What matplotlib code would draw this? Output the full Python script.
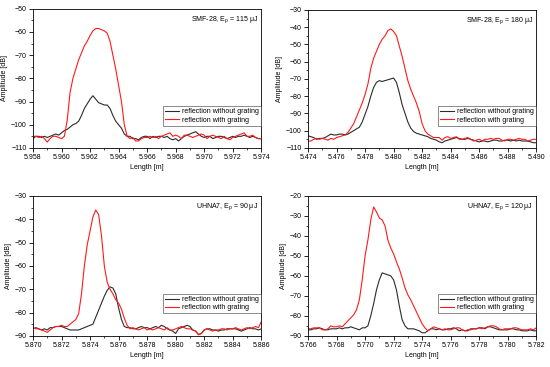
import numpy as np
import matplotlib
matplotlib.use("Agg")
from matplotlib import pyplot as plt
from matplotlib.ticker import MultipleLocator

plt.rcParams['font.family'] = ['Liberation Sans', 'DejaVu Sans']
plt.rcParams['mathtext.default'] = 'regular'

# sample grids (0.2 mm spacing) for each panel
x_smf115 = np.linspace(5.958, 5.974, 81)
x_smf180 = np.linspace(5.474, 5.490, 81)
x_uhna90 = np.linspace(5.870, 5.886, 81)
x_uhna120 = np.linspace(5.766, 5.782, 81)

smf115_without = [
    -106, -105, -105, -105.5, -105, -105.5, -105, -104.5, -104, -104.5,
    -103.5, -102.5, -102, -101, -100, -99.5, -98.5, -96, -93, -91,
    -89, -87.5, -89, -90.5, -91, -91.5, -91.5, -93, -96, -98.5,
    -100, -101.5, -104, -105, -105, -106, -106, -106.5, -105.5, -105,
    -105, -106, -105, -105.5, -105, -105, -105.5, -105, -106, -106.5,
    -106, -107, -106, -105, -104.5, -104, -103.5, -103, -104, -105,
    -105.5, -105, -105, -106, -105.5, -105, -105, -105.5, -106, -105.5,
    -105, -105.5, -105, -105, -104.5, -105, -105.5, -105, -105.5, -106,
    -106]
smf115_with = [
    -105, -105, -105.5, -105, -106, -107.5, -106, -105, -105, -105.5,
    -106, -105, -98, -86, -80, -76, -72, -69, -66, -64,
    -61.5, -59.5, -58.5, -58.5, -59, -59.5, -60.5, -64, -70, -76,
    -83, -90, -100, -105, -106, -105.5, -107, -107, -106, -105.5,
    -105.5, -105, -105.5, -105, -106, -105, -104.5, -104, -103.5, -105,
    -104.5, -105, -106, -104.5, -104.5, -105, -105.5, -105, -104.5, -104,
    -104.5, -106, -105, -104.5, -105, -105.5, -106, -105, -106, -106.5,
    -105.5, -105, -104.5, -104, -103.5, -105, -105, -104.5, -105.5, -106,
    -106]

smf180_without = [
    -103, -103.5, -104, -105, -104.5, -104.5, -104, -103, -102, -102.5,
    -102.5, -102, -102, -102.5, -102, -101, -100, -99, -98, -95,
    -90.5, -86, -80, -75, -72, -71, -71.5, -71, -70.5, -70,
    -69.5, -72, -78, -85, -90, -95, -98.5, -100.5, -101.5, -102,
    -102.5, -103, -103.5, -104.5, -105, -105.5, -106.5, -107, -106, -105.5,
    -105, -104.5, -104, -104.5, -105, -105, -104.5, -105, -105.5, -106,
    -106.5, -106, -106, -106.5, -106, -105.5, -105.5, -106, -106, -105.5,
    -105.5, -106, -105.5, -106, -105.5, -106, -106, -106, -106.5, -107,
    -107]
smf180_with = [
    -106, -106, -105, -104.5, -105, -104.5, -105, -105.5, -104.5, -105,
    -104, -103.5, -103, -102.5, -101, -98.5, -96, -92, -88, -84,
    -79, -73, -64, -58, -54, -50, -47, -45, -42, -41,
    -42.5, -45, -51, -57, -64, -71, -76, -80, -84, -89,
    -96, -100, -102, -103, -104, -104, -104, -105.5, -104, -103.5,
    -104.5, -104, -103.5, -105, -105, -104.5, -104, -105, -106, -105.5,
    -105, -106, -105, -105, -104.5, -105, -104.5, -104.5, -105.5, -106,
    -105, -105, -105.5, -105, -104.5, -105, -105, -106, -105.5, -105,
    -105]

uhna90_without = [
    -87, -86.5, -87, -87.5, -87, -87.5, -86.5, -86.5, -86, -86,
    -86, -86.5, -87, -87.5, -87.5, -87.5, -87.5, -87, -86.5, -86,
    -85.5, -85, -82, -79, -76, -73, -70.5, -69, -69.5, -72,
    -78, -83, -86, -86.5, -86.5, -87, -87, -86.5, -86, -86.5,
    -86.5, -87, -86.5, -86, -86.5, -85.5, -86, -87, -87.5, -88,
    -89, -87, -86.5, -86, -85.5, -86, -87.5, -88, -89.5, -89,
    -87.5, -87, -87, -87.5, -87.5, -88, -87.5, -87.5, -87, -87,
    -87, -87, -87.5, -88, -87.5, -87, -86.5, -87, -87, -87.5,
    -87]
uhna90_with = [
    -86.5, -87, -87, -87.5, -88, -88.5, -87.5, -86.5, -86, -86,
    -85.5, -86, -86, -85, -84, -83, -80.5, -72, -60, -51,
    -45, -39, -36, -38, -47, -60, -67, -70, -72, -74.5,
    -76, -78.5, -82.5, -85.5, -87, -86.5, -87, -87.5, -87, -86.5,
    -87.5, -87, -87.5, -87, -86.5, -87, -87.5, -86.5, -87.5, -87.5,
    -87, -86.5, -86, -86.5, -87, -87, -87.5, -88, -89.5, -89,
    -87.5, -87, -87.5, -88, -87.5, -87.5, -87, -87, -87.5, -87,
    -87, -86.5, -87, -87.5, -87, -86.5, -87, -86.5, -86, -86.5,
    -84]

uhna120_without = [
    -87, -87, -86.5, -86.5, -86, -86.5, -87, -87, -86.5, -86.5,
    -86.5, -86, -86.5, -86, -86, -85.5, -86, -86.5, -87, -86,
    -86, -85, -80, -74, -67, -62, -58.5, -59, -59.5, -60,
    -62, -67, -75, -82, -85, -86.5, -86.5, -86.5, -87, -87.5,
    -88.5, -88.5, -87.5, -86.5, -86.5, -87, -86.5, -87, -87, -86.5,
    -86.5, -86, -86.5, -87.5, -87, -87.5, -87.5, -86.5, -86.5, -86.5,
    -86, -86, -86.5, -85.5, -85.5, -86, -86.5, -87, -87, -87,
    -87, -86.5, -86.5, -87, -87, -87.5, -87.5, -87.5, -87, -87.5,
    -87.5]
uhna120_with = [
    -86.5, -86.5, -86, -86, -86, -87, -87, -86.5, -85, -85.5,
    -85.5, -85, -85.5, -84, -82.5, -81, -79.5, -77, -72, -62,
    -50, -42, -32, -25.5, -28, -31, -32, -35, -42, -46,
    -49, -53, -56.5, -61, -66, -69.5, -72, -75, -78, -81,
    -84, -86, -87.5, -86.5, -85.5, -86, -86.5, -87, -86.5, -87,
    -87, -86.5, -86, -86, -87, -87.5, -87, -87, -86.5, -86.5,
    -86, -86.5, -86, -85.5, -85, -85, -85.5, -86.5, -87, -86.5,
    -86.5, -86.5, -86, -86, -86.5, -87, -87, -87, -86.5, -87,
    -86]

panels = [
    (x_smf115, smf115_without, smf115_with, r"SMF-28, E$_p$ = 115 μJ", (5.958, 5.974), (-110, -50)),
    (x_smf180, smf180_without, smf180_with, r"SMF-28, E$_p$ = 180 μJ", (5.474, 5.490), (-110, -30)),
    (x_uhna90, uhna90_without, uhna90_with, r"UHNA7, E$_p$ = 90 μJ", (5.870, 5.886), (-90, -30)),
    (x_uhna120, uhna120_without, uhna120_with, r"UHNA7, E$_p$ = 120 μJ", (5.766, 5.782), (-90, -20)),
]

# axes boxes in figure fractions (left, bottom, width, height)
boxes = [
    (0.060, 0.597, 0.415, 0.379),
    (0.560, 0.597, 0.415, 0.376),
    (0.060, 0.085, 0.415, 0.381),
    (0.560, 0.085, 0.415, 0.381),
]

fig = plt.figure(figsize=(5.5, 3.67), dpi=100)

for (x, y_wo, y_w, label, xlim, ylim), box in zip(panels, boxes):
    ax = fig.add_axes(box)
    ax.plot(x, y_wo, color='#2b2b2b', linewidth=0.8, label="reflection without grating")
    ax.plot(x, y_w, color='#ff1a1a', linewidth=0.8, label="reflection with grating")
    ax.set_xlim(*xlim)
    ax.set_ylim(*ylim)
    ax.xaxis.set_major_locator(MultipleLocator(0.002))
    ax.xaxis.set_minor_locator(MultipleLocator(0.001))
    ax.yaxis.set_major_locator(MultipleLocator(10))
    ax.yaxis.set_minor_locator(MultipleLocator(5))
    ax.xaxis.set_major_formatter(plt.FormatStrFormatter('%.3f'))
    ax.tick_params(which='major', direction='out', length=3, width=0.6, labelsize=5, pad=1.5)
    ax.tick_params(which='minor', direction='out', length=1.7, width=0.5)
    for s in ax.spines.values():
        s.set_linewidth(0.6)
    ax.set_xlabel("Length [m]", fontsize=5, labelpad=2)
    ax.set_ylabel("Amplitude [dB]", fontsize=5, labelpad=2)
    ax.text(0.985, 0.96, label, transform=ax.transAxes, ha='right', va='top', fontsize=5)
    leg = ax.legend(loc='lower right', bbox_to_anchor=(0.997, 0.16), fontsize=5,
                    frameon=True, fancybox=False, borderaxespad=0, handlelength=2.0,
                    borderpad=0.3, labelspacing=0.2, handletextpad=0.4)
    leg.get_frame().set_edgecolor('#333333')
    leg.get_frame().set_linewidth(0.5)

fig.savefig("out.png", dpi=100)
